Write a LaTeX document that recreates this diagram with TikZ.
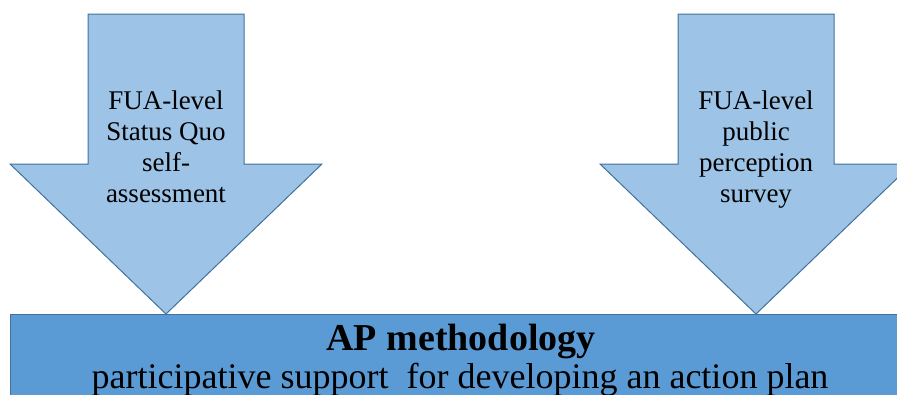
\documentclass[tikz,border=0pt]{standalone}
\usepackage{fontspec}
\setmainfont{Liberation Serif}
\definecolor{arrowfill}{HTML}{9DC3E6}
\definecolor{boxfill}{HTML}{5B9BD5}
\definecolor{edge}{HTML}{41719C}
\tikzset{
  bigarrow/.style={fill=arrowfill, draw=edge, line width=1pt, line join=miter},
  basebox/.style={fill=boxfill, draw=edge, line width=1pt},
  % multi-line labels: the base anchor sits on the last line's baseline
  arrowtext/.style={align=center, inner sep=0pt, anchor=base,
    font=\fontsize{27}{31}\selectfont},
}
\begin{document}
\begin{tikzpicture}[x=1pt,y=-1pt]
  \useasboundingbox (0,0) rectangle (897,394);
  \clip (0,0) rectangle (897,394);
  % base block
  \draw[basebox] (10,314) rectangle (912,430);
  % left input arrow
  \draw[bigarrow] (88,14) -- (244,14) -- (244,164) -- (322,164) -- (166,314)
    -- (10,164) -- (88,164) -- cycle;
  % right input arrow
  \draw[bigarrow] (678,14) -- (834,14) -- (834,164) -- (912,164) -- (756,314)
    -- (600,164) -- (678,164) -- cycle;
  \node[arrowtext] (leftlabel) at (166,202)
    {FUA-level\\Status Quo\\self-\\assessment};
  \node[arrowtext] (rightlabel) at (756,202)
    {FUA-level\\public\\perception\\survey};
  \node[anchor=base, inner sep=0pt, font=\fontsize{38}{40}\selectfont\bfseries]
    (title) at (461,350) {AP methodology};
  \node[anchor=base, inner sep=0pt, font=\fontsize{36}{40}\selectfont]
    (subtitle) at (460,388) {participative support\ \ for developing an action plan};
\end{tikzpicture}
\end{document}
